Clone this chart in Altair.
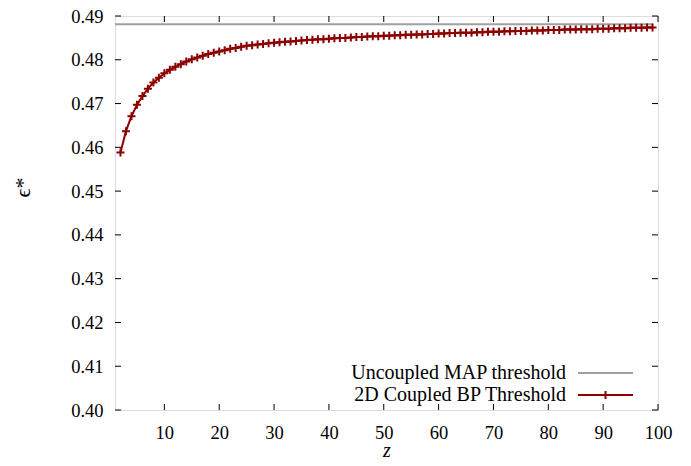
import altair as alt
import pandas as pd

# ---- data ----
z = list(range(2, 100))
eps_bp = [
    0.4588, 0.4637, 0.4671, 0.4697, 0.4717, 0.4734, 0.4748, 0.4759, 0.4769,  # 2-10
    0.4777, 0.4784, 0.4790, 0.4796, 0.4801, 0.4805, 0.4809, 0.4813, 0.4816, 0.4819,  # 11-20
    0.4822, 0.4825, 0.4827, 0.4830, 0.4832, 0.4833, 0.4835, 0.4836, 0.4838, 0.4839,  # 21-30
    0.4840, 0.4841, 0.4842, 0.4843, 0.4844, 0.4845, 0.4846, 0.4847, 0.4847, 0.4848,  # 31-40
    0.4849, 0.4850, 0.4850, 0.4851, 0.4852, 0.4852, 0.4853, 0.4854, 0.4854, 0.4855,  # 41-50
    0.4855, 0.4856, 0.4856, 0.4857, 0.4857, 0.4858, 0.4858, 0.4859, 0.4859, 0.4860,  # 51-60
    0.4860, 0.4861, 0.4861, 0.4862, 0.4862, 0.4862, 0.4863, 0.4863, 0.4864, 0.4864,  # 61-70
    0.4864, 0.4865, 0.4865, 0.4866, 0.4866, 0.4866, 0.4867, 0.4867, 0.4867, 0.4868,  # 71-80
    0.4868, 0.4868, 0.4869, 0.4869, 0.4869, 0.4870, 0.4870, 0.4870, 0.4871, 0.4871,  # 81-90
    0.4871, 0.4872, 0.4872, 0.4872, 0.4873, 0.4873, 0.4873, 0.4874, 0.4874,  # 91-99
]
map_z = [1, 99]
map_eps = [0.4881, 0.4881]
x_ticks = [10, 20, 30, 40, 50, 60, 70, 80, 90, 100]
y_ticks = [0.40, 0.41, 0.42, 0.43, 0.44, 0.45, 0.46, 0.47, 0.48, 0.49]
legend_labels = ["Uncoupled MAP threshold", "2D Coupled BP Threshold"]

# ---- styling ----
W, H = 543, 394
FONT = "Liberation Serif"
RED = "#8b0000"
GRAY = "#a0a0a0"
TICK = 6
PLUS = "M -1 0 L 1 0 M 0 -1 L 0 1"
LABEL_SIZE = 18.5

xs = alt.Scale(domain=[1, 100], nice=False, zero=False)
ys = alt.Scale(domain=[0.40, 0.49], nice=False, zero=False)

bp = pd.DataFrame({"z": z, "eps": eps_bp})
mp = pd.DataFrame({"z": map_z, "eps": map_eps})
xt = pd.DataFrame({"v": x_ticks})
yt = pd.DataFrame({"v": y_ticks})

xaxis = alt.Axis(values=x_ticks, ticks=False, domain=False, grid=False,
                 labelFont=FONT, labelFontSize=LABEL_SIZE, labelColor="black",
                 labelPadding=22, labelBaseline="middle", labelFlush=False,
                 labelOverlap=False,
                 title="z", titleFont=FONT, titleFontStyle="italic",
                 titleFontWeight="normal", titleFontSize=20, titleColor="black",
                 titleY=46, titleBaseline="alphabetic")
yaxis = alt.Axis(values=y_ticks, format=".2f", ticks=False, domain=False, grid=False,
                 labelFont=FONT, labelFontSize=LABEL_SIZE, labelColor="black",
                 labelPadding=12, labelFlush=False, labelOverlap=False,
                 title="ϵ*", titleFont=FONT, titleFontWeight="normal",
                 titleFontSize=22, titleColor="black",
                 titleX=-93, titleY=171, titleBaseline="middle")

map_line = alt.Chart(mp).mark_line(color=GRAY, strokeWidth=2).encode(
    x=alt.X("z:Q", scale=xs, axis=xaxis),
    y=alt.Y("eps:Q", scale=ys, axis=yaxis),
)
bp_line = alt.Chart(bp).mark_line(color=RED, strokeWidth=2).encode(
    x=alt.X("z:Q", scale=xs, axis=None),
    y=alt.Y("eps:Q", scale=ys, axis=None),
)
bp_pts = alt.Chart(bp).mark_point(shape=PLUS, filled=False, color=RED,
                                  strokeWidth=2, size=64, opacity=1).encode(
    x=alt.X("z:Q", scale=xs, axis=None),
    y=alt.Y("eps:Q", scale=ys, axis=None),
)

tick_bottom = alt.Chart(xt).mark_rule(color="black", strokeWidth=1).encode(
    x=alt.X("v:Q", scale=xs, axis=None), y=alt.value(H), y2=alt.value(H - TICK))
tick_top = alt.Chart(xt).mark_rule(color="black", strokeWidth=1).encode(
    x=alt.X("v:Q", scale=xs, axis=None), y=alt.value(0), y2=alt.value(TICK))
tick_left = alt.Chart(yt).mark_rule(color="black", strokeWidth=1).encode(
    y=alt.Y("v:Q", scale=ys, axis=None), x=alt.value(0), x2=alt.value(TICK))
tick_right = alt.Chart(yt).mark_rule(color="black", strokeWidth=1).encode(
    y=alt.Y("v:Q", scale=ys, axis=None), x=alt.value(W), x2=alt.value(W - TICK))

leg1 = pd.DataFrame({"label": [legend_labels[0]]})
leg2 = pd.DataFrame({"label": [legend_labels[1]]})
LX, LY1, LY2 = 451, 357, 379
leg_text1 = alt.Chart(leg1).mark_text(align="right", baseline="middle", font=FONT,
                                      fontSize=20, color="black").encode(
    text="label:N", x=alt.value(LX), y=alt.value(LY1))
leg_text2 = alt.Chart(leg2).mark_text(align="right", baseline="middle", font=FONT,
                                      fontSize=20, color="black").encode(
    text="label:N", x=alt.value(LX), y=alt.value(LY2))
leg_line1 = alt.Chart(leg1).mark_rule(color=GRAY, strokeWidth=2).encode(
    x=alt.value(LX + 12), x2=alt.value(LX + 67), y=alt.value(LY1))
leg_line2 = alt.Chart(leg2).mark_rule(color=RED, strokeWidth=2).encode(
    x=alt.value(LX + 12), x2=alt.value(LX + 67), y=alt.value(LY2))
leg_pt2 = alt.Chart(leg2).mark_point(shape=PLUS, filled=False, color=RED,
                                     strokeWidth=2, size=64, opacity=1).encode(
    x=alt.value(LX + 39.5), y=alt.value(LY2))

chart = alt.layer(
    map_line, bp_line, bp_pts,
    tick_bottom, tick_top, tick_left, tick_right,
    leg_text1, leg_text2, leg_line1, leg_line2, leg_pt2,
).resolve_axis(
    x="independent", y="independent"
).properties(
    width=W, height=H,
    padding={"left": 107, "top": 8, "right": 25, "bottom": 50},
    autosize=alt.AutoSizeParams(type="none"),
).configure_view(stroke="black", strokeWidth=1.2).configure(background="white")

chart.save("out.html", embed_options={"renderer": "svg", "actions": False})
